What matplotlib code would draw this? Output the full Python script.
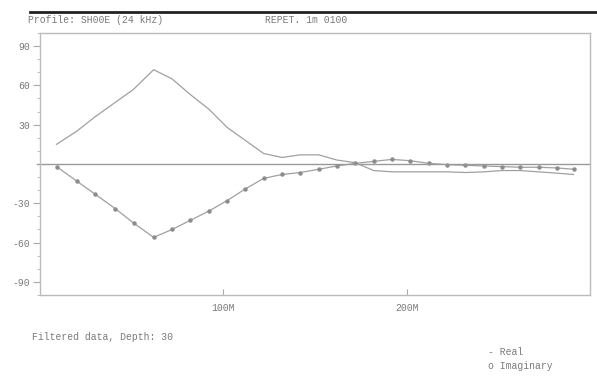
import matplotlib
matplotlib.use("Agg")
import matplotlib.pyplot as plt
from matplotlib.ticker import MultipleLocator, FixedLocator
from matplotlib.lines import Line2D

# Profile distance (m) and filtered response components
distance = [9, 20, 30, 41, 51, 62, 72, 82, 92, 102, 112, 122, 132, 142, 152,
            162, 172, 182, 192, 202, 212, 222, 232, 242, 252, 262, 272, 282, 291]
real = [15, 25, 36, 47, 57, 72, 65, 53, 42, 28, 18, 8, 5, 7, 7,
        3, 1, -5, -6, -6, -6, -6, -6.5, -6, -5, -5, -6, -7, -8]
imaginary = [-2, -13, -23, -34, -45, -56, -50, -43, -36, -28, -19, -11, -8, -6.5, -4,
             -1.5, 0.5, 2, 3.5, 2.5, 0.5, -0.5, -1, -1.5, -2, -2.5, -2.5, -3, -4]

y_ticks = [90, 60, 30, -30, -60, -90]
x_ticks = [100, 200]
x_tick_labels = ["100M", "200M"]

header_left = "Profile: SH00E (24 kHz)"
header_right = "REPET. 1m 0100"
footer = "Filtered data, Depth: 30"
legend_labels = ["- Real", "o Imaginary"]

ink = "#a0a0a0"
text_col = "#7a7a7a"
mono = ["Liberation Mono", "DejaVu Sans Mono"]

fig = plt.figure(figsize=(5.97, 3.77), dpi=100)
fig.patch.set_facecolor("white")
ax = fig.add_axes([40 / 597, 1 - 295 / 377, 550 / 597, 262 / 377])

ax.plot(distance, real, color=ink, lw=0.9)
ax.plot(distance, imaginary, color=ink, lw=0.9,
        marker="o", ms=2.2, mfc="#8c8c8c", mec="#8c8c8c")
ax.axhline(0, color="#999999", lw=1.0, xmin=-0.005, clip_on=False)

ax.set_xlim(0, 300)
ax.set_ylim(-100, 100)
ax.yaxis.set_major_locator(FixedLocator(y_ticks))
ax.set_yticklabels([str(v) for v in y_ticks])
ax.yaxis.set_minor_locator(MultipleLocator(10))
ax.xaxis.set_major_locator(FixedLocator(x_ticks))
ax.set_xticklabels(x_tick_labels)

for s in ax.spines.values():
    s.set_color("#bbbbbb")
    s.set_linewidth(1.0)

ax.tick_params(axis="y", which="major", direction="out", length=5, color="#aaaaaa",
               labelsize=7, labelcolor=text_col, pad=2)
ax.tick_params(axis="y", which="minor", direction="out", length=2.5, color="#b5b5b5")
ax.tick_params(axis="x", which="major", direction="in", length=4, color="#aaaaaa",
               labelsize=7, labelcolor=text_col, pad=6)
for lab in ax.get_xticklabels() + ax.get_yticklabels():
    lab.set_family(mono)

# Header rule and captions
fig.add_artist(Line2D([30 / 597, 1.0], [1 - 12 / 377, 1 - 12 / 377],
                      color="#222222", lw=2.0))
fig.text(28 / 597, 1 - 20 / 377, header_left, family=mono, fontsize=7,
         color=text_col, va="center", ha="left")
fig.text(265 / 597, 1 - 20 / 377, header_right, family=mono, fontsize=7,
         color=text_col, va="center", ha="left")
fig.text(32 / 597, 1 - 337 / 377, footer, family=mono, fontsize=7,
         color=text_col, va="center", ha="left")
fig.text(488 / 597, 1 - 352 / 377, legend_labels[0], family=mono, fontsize=7,
         color=text_col, va="center", ha="left")
fig.text(488 / 597, 1 - 366 / 377, legend_labels[1], family=mono, fontsize=7,
         color=text_col, va="center", ha="left")

fig.savefig("out.png", dpi=100)
